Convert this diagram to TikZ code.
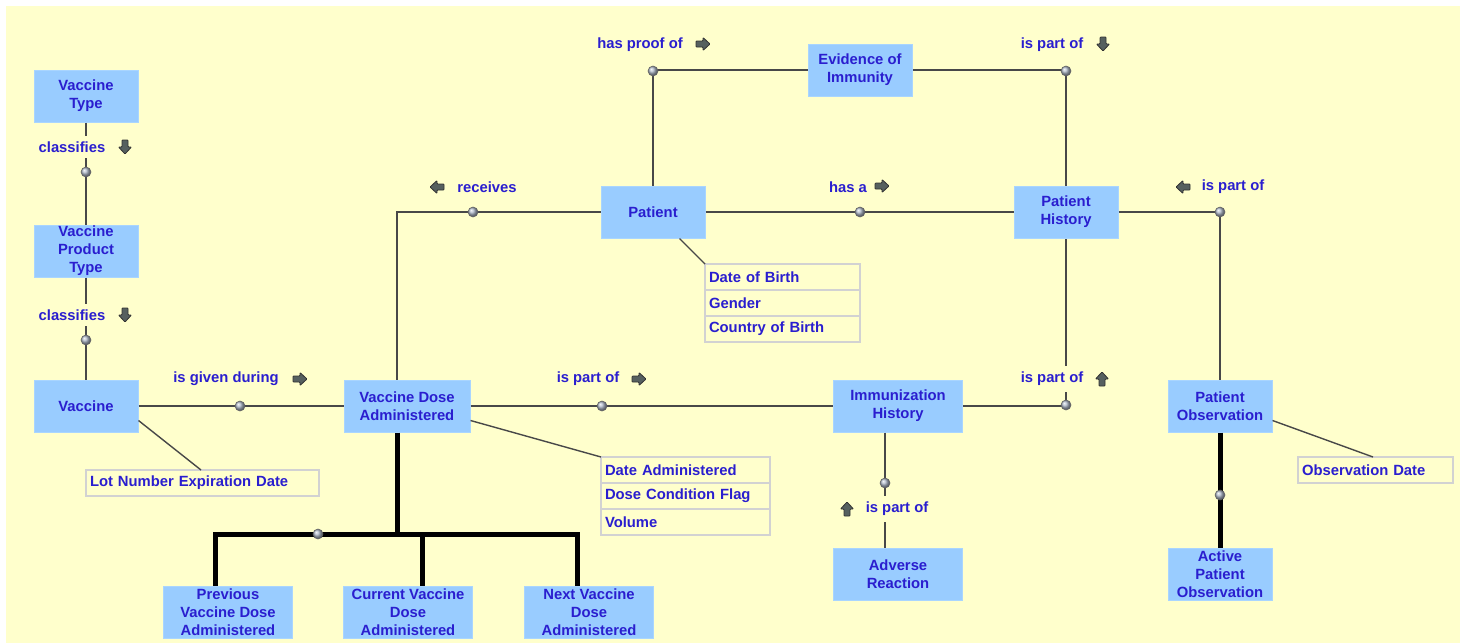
\documentclass[tikz,border=0pt]{standalone}
\usepackage{fontspec}
\setmainfont{Liberation Sans}
\definecolor{bgyellow}{HTML}{FFFFCC}
\definecolor{entityblue}{HTML}{99CCFF}
\definecolor{entityedge}{HTML}{A9D5FF}
\definecolor{textblue}{HTML}{2A1ECF}
\definecolor{linegrey}{HTML}{484848}
\definecolor{attredge}{HTML}{D2D2D2}
\definecolor{arrowgrey}{HTML}{56605F}
\definecolor{balltone}{HTML}{AEB8C8}
\tikzset{
  entity/.style={rectangle, fill=entityblue, draw=entityedge, line width=0.5pt,
    minimum width=52pt, minimum height=26pt, inner xsep=1pt, inner ysep=0pt,
    align=center, text=textblue, font=\fontsize{7.4}{9}\selectfont\bfseries},
  wideentity/.style={entity, minimum width=64.5pt},
  attr/.style={rectangle, draw=attredge, fill=bgyellow, line width=1pt,
    minimum height=13pt, inner xsep=2pt, inner ysep=0pt, outer sep=0pt,
    anchor=north west, align=left, text=textblue,
    font=\fontsize{7.4}{9}\selectfont\bfseries},
  rellabel/.style={fill=bgyellow, inner xsep=1pt, inner ysep=3pt,
    text=textblue, font=\fontsize{7.4}{9}\selectfont\bfseries},
  relarrow/.pic={
    \filldraw[fill=arrowgrey, draw=black!80, line width=0.4pt, rounded corners=0.4pt]
      (-7,-3) -- (0,-3) -- (0,-6.5) -- (7,0) -- (0,6.5) -- (0,3) -- (-7,3) -- cycle;
  },
  joint/.style={circle, shading=ball, ball color=balltone, draw=black!60,
    line width=0.3pt, minimum size=5pt, inner sep=0pt},
  rel/.style={draw=linegrey, line width=1pt},
  treeline/.style={draw=black, line width=2.5pt},
  attrline/.style={draw=linegrey, line width=0.7pt}
}
\begin{document}
\begin{tikzpicture}[x=0.5pt, y=-0.5pt]
		%Frame and background
		\useasboundingbox (0,0) rectangle (1465,643);
		\fill[white] (0,0) rectangle (1465,643);
		\fill[bgyellow] (6,6) rectangle (1460,643);
		%Entities
		\node[entity] (vacType) at (86,96) {Vaccine\\Type};
		\node[entity] (vacProdType) at (86,251) {Vaccine\\Product\\Type};
		\node[entity] (vaccine) at (86,406) {Vaccine};
		\node[wideentity, minimum width=63pt] (vdaAdmin) at (407,406) {Vaccine Dose\\Administered};
		\node[entity] (patient) at (653,212) {Patient};
		\node[entity] (evidence) at (860,70) {Evidence of\\Immunity};
		\node[entity] (patHist) at (1066,212) {Patient\\History};
		\node[wideentity] (immHist) at (898,406) {Immunization\\History};
		\node[entity] (patObs) at (1220,406) {Patient\\Observation};
		\node[wideentity] (advReact) at (898,574) {Adverse\\Reaction};
		\node[entity] (activeObs) at (1220,574) {Active\\Patient\\Observation};
		\node[wideentity] (prevDose) at (228,612) {Previous\\Vaccine Dose\\Administered};
		\node[wideentity] (currDose) at (408,612) {Current Vaccine\\Dose\\Administered};
		\node[wideentity] (nextDose) at (589,612) {Next Vaccine\\Dose\\Administered};
		%Attribute lists
		\node[attr, text width=73.5pt] (patDob) at (705,264) {Date of Birth};
		\node[attr, text width=73.5pt] (patGender) at (patDob.south west) {Gender};
		\node[attr, text width=73.5pt] (patCountry) at (patGender.south west) {Country of Birth};
		\node[attr, text width=80.5pt] (vdaDate) at (601,457) {Date Administered};
		\node[attr, text width=80.5pt] (vdaFlag) at (vdaDate.south west) {Dose Condition Flag};
		\node[attr, text width=80.5pt] (vdaVolume) at (vdaFlag.south west) {Volume};
		\node[attr, text width=112.5pt] (vacLot) at (86,470) {Lot Number Expiration Date};
		\node[attr, text width=73.5pt] (obsDate) at (1298,457) {Observation Date};
		%Attribute connectors
		\draw[attrline] ([xshift=-13pt]patient.south east) -- (patDob.north west);
		\draw[attrline] ([yshift=6pt]vdaAdmin.south east) -- (vdaDate.north west);
		\draw[attrline] ([yshift=6pt]vaccine.south east) -- ([xshift=57.5pt]vacLot.north west);
		\draw[attrline] ([yshift=6pt]patObs.south east) -- ([xshift=37.5pt]obsDate.north west);
		%Relationships
		\draw[rel] (vacType) -- (vacProdType);
		\draw[rel] (vacProdType) -- (vaccine);
		\draw[rel] (vaccine) -- (vdaAdmin);
		\draw[rel] (vdaAdmin) -- (immHist);
		\draw[rel] (immHist.east) -| (patHist.south);
		\draw[rel] ([xshift=-6.5pt]immHist.south) -- ([xshift=-6.5pt]advReact.north);
		\draw[rel] (patient.west) -| ([xshift=-5pt]vdaAdmin.north);
		\draw[rel] (patient) -- (patHist);
		\draw[rel] (patient.north) |- (evidence.west);
		\draw[rel] (evidence.east) -| (patHist.north);
		\draw[rel] (patHist.east) -| (patObs.north);
		\draw[treeline] (patObs) -- (activeObs);
		%Dose tree
		\coordinate (fork) at (397,534);
		\draw[treeline] ([xshift=-6.5pt]prevDose.north) |- (fork) -| ([xshift=-6pt]nextDose.north);
		\draw[treeline] ([xshift=-5pt]vdaAdmin.south) -- (fork);
		\draw[treeline] ([xshift=7pt]currDose.north) -- ([xshift=7pt]currDose.north |- fork);
		%Joints
		\node[joint] (jClassA) at (86,172) {};
		\node[joint] (jClassB) at (86,340) {};
		\node[joint] (jGiven) at (240,406) {};
		\node[joint] (jPartVda) at (602,406) {};
		\node[joint] (jPartImm) at (1066,405) {};
		\node[joint] (jPartAdv) at (885,483) {};
		\node[joint] (jReceives) at (473,212) {};
		\node[joint] (jHasA) at (860,212) {};
		\node[joint] (jProof) at (653,71) {};
		\node[joint] (jPartEvid) at (1066,71) {};
		\node[joint] (jPartObs) at (1220,212) {};
		\node[joint] (jActive) at (1220,495) {};
		\node[joint] (jDoses) at (318,534) {};
		%Relationship labels
		\node[rellabel] (lClassA) at (72,147) {classifies};
		\pic[rotate=270] (aClassA) at (125,147) {relarrow};
		\node[rellabel] (lClassB) at (72,315) {classifies};
		\pic[rotate=270] (aClassB) at (125,315) {relarrow};
		\node[rellabel] (lGiven) at (226,379) {is given during};
		\pic (aGiven) at (300,379) {relarrow};
		\node[rellabel] (lPartVda) at (588,379) {is part of};
		\pic (aPartVda) at (639,379) {relarrow};
		\node[rellabel] (lPartImm) at (1052,379) {is part of};
		\pic[rotate=90] (aPartImm) at (1102,379) {relarrow};
		\node[rellabel] (lPartAdv) at (897,509) {is part of};
		\pic[rotate=90] (aPartAdv) at (847,509) {relarrow};
		\node[rellabel] (lReceives) at (487,187) {receives};
		\pic[rotate=180] (aReceives) at (437,187) {relarrow};
		\node[rellabel] (lHasA) at (848,187) {has a};
		\pic (aHasA) at (882,186) {relarrow};
		\node[rellabel] (lProof) at (640,45) {has proof of};
		\pic (aProof) at (703,44) {relarrow};
		\node[rellabel] (lPartEvid) at (1052,45) {is part of};
		\pic[rotate=270] (aPartEvid) at (1103,44) {relarrow};
		\node[rellabel] (lPartObs) at (1233,187) {is part of};
		\pic[rotate=180] (aPartObs) at (1183,187) {relarrow};
\end{tikzpicture}
\end{document}
